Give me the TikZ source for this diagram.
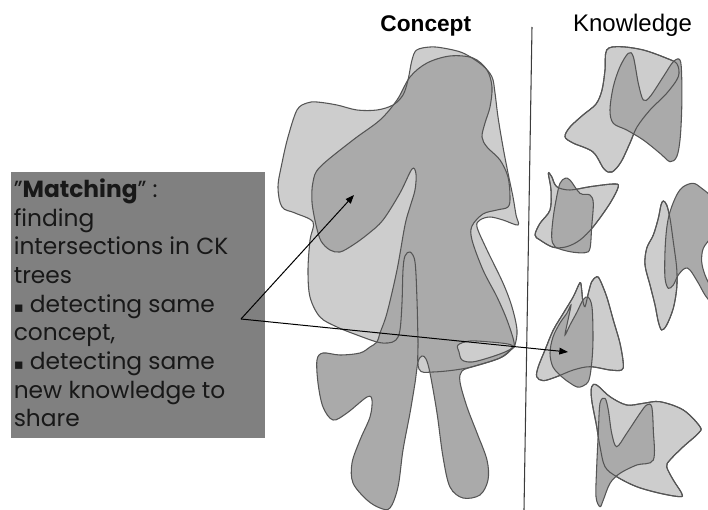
\documentclass[tikz,border=0pt]{standalone}
\usepackage{fontspec}
\setmainfont{Poppins}
\newfontfamily\arialf{Liberation Sans}
\newfontfamily\dejavuf{DejaVu Sans}
\usetikzlibrary{arrows.meta}
\definecolor{lgray}{HTML}{CDCDCD}
\definecolor{dgray}{HTML}{AAAAAA}
\definecolor{ogray}{HTML}{555555}
\definecolor{boxgray}{HTML}{808080}
\definecolor{txtcol}{HTML}{181818}
\tikzset{
  outl/.style={draw=ogray, line width=0.8pt},
  txt/.style={anchor=base west, inner sep=0pt, text=txtcol, font=\fontsize{17.5}{20}\selectfont},
  arr/.style={-{Triangle[length=6.5pt,width=5pt]}, line width=0.75pt, black},
}
\newcommand{\blt}{{\dejavuf\fontsize{11}{12}\selectfont ▪}}
\begin{document}
\begin{tikzpicture}[x=0.75pt,y=-0.75pt]
\useasboundingbox (0,0) rectangle (708,510);

% divider
\coordinate (vtop) at (532,27);
\coordinate (vbot) at (524,510);
\draw[line width=0.8pt, color=ogray!70!black] (vtop) -- (vbot);

% ---------- Concept shapes ----------
\path[save path=\pL] plot[smooth cycle, tension=0.55] coordinates {
(416.7,50) (430,47) (443,48) (463,53) (482,65) (492,77) (495,93) (498,117) (503,147) (508,173) (513,197) (516,215) (518,225) (503,220) (490,217) (480,220) (477,227) (487,250) (503,283) (512,307) (517,330) (515,345) (512,349) (500,358) (467,368) (433,372) (419,369) (418,340) (417,300) (415,262) (410,252) (405,256) (403,270) (402,303) (400,330) (396,340) (388,343) (377,342) (357,335) (337,327) (320,317) (310,297) (308,270) (310,240) (313,222) (295,213) (282,207) (278,187) (282,163) (288,137) (297,110) (307,103) (317,102) (337,105) (357,110) (377,110) (393,105) (403,95) (408,80) (412,60)};
\path[save path=\pD] plot[smooth cycle, tension=0.55] coordinates {
(370,347) (360,353) (340,355) (323,353) (317,360) (318,383) (323,407) (333,420) (347,413) (367,397) (372,400) (370,417) (360,440) (352,463) (353,483) (367,500) (380,508) (390,508) (398,487) (403,450) (410,413) (415,383) (418,362) (422,356) (426,359) (430,373) (437,413) (443,457) (450,487) (463,498) (480,495) (488,480) (487,460) (477,433) (467,407) (460,382) (462,371) (475,366) (500,358) (512,348) (514,342) (507,320) (497,297) (483,270) (472,240) (472,226) (483,214) (497,210) (508,207) (510,197) (508,177) (500,160) (487,147) (482,137) (485,123) (490,107) (492,87) (487,70) (473,58) (450,56) (427,63) (410,77) (397,100) (380,120) (353,140) (320,167) (313,182) (312,202) (316,225) (321,241) (330,250) (340,252) (353,245) (368,234) (383,220) (400,193) (412,169) (416,174) (415,190) (410,207) (405,225) (397,270) (387,313) (380,333) (377,342)};
\path[save path=\pS] plot[smooth cycle, tension=0.55] coordinates {
(458,345) (470,341) (490,342) (508,344) (513,347) (505,352) (488,358) (472,362) (462,360) (459,352)};
\path[use path=\pL, fill=lgray];
\path[use path=\pD, fill=dgray];
\path[use path=\pS, fill=lgray];
\path[use path=\pL, outl];
\path[use path=\pD, outl];
\path[use path=\pS, outl];

% ---------- Knowledge shapes ----------
% K1
\path[save path=\pKa] plot[smooth cycle, tension=0.55] coordinates {
(606.7,50) (620,46.7) (643.3,50) (666.7,58.3) (677,64) (678.3,76.7) (666.7,93.3) (650,110) (637,127) (630,143) (621,162) (612,172) (604,169) (593,152) (573,143) (565,136.7) (570,127) (583,115) (596,104) (602,90) (605,70)};
\path[save path=\pKb] plot[smooth cycle, tension=0.55] coordinates {
(610,110) (613.3,86.7) (620,66.7) (628.3,53.3) (633.3,56.7) (638.3,83.3) (643.3,100) (650,96.7) (663.3,76.7) (673.3,61.7) (680,60) (681.7,76.7) (681.7,110) (680,140) (676.7,156.7) (670,161.7) (660,153.3) (643.3,140) (626.7,130) (613.3,123.3)};
% K2
\path[save path=\pKc] plot[smooth cycle, tension=0.55] coordinates {
(548.3,173.3) (551.7,176.7) (556.7,186.7) (570,190) (590,186.7) (613.3,184) (618.3,186.7) (610,203.3) (593.3,226.7) (580,240) (566.7,246.7) (553.3,247.3) (540,240) (535,235) (540,223.3) (550,210) (551,190)};
\path[save path=\pKd] plot[smooth cycle, tension=0.55] coordinates {
(560,183.3) (565,178.3) (570,180) (580,193.3) (590,195) (593.3,203.3) (591.7,226.7) (590,248.3) (585,252.7) (570,251.7) (555,246.7) (551.7,236.7) (553.3,216.7) (556.7,196.7)};
% K3
\path[save path=\pKe] plot[smooth cycle, tension=0.55] coordinates {
(663.3,201) (666.7,205) (670,218.3) (673.3,241.7) (676.7,268.3) (676.7,288.3) (673.3,308.3) (666.7,325) (661.7,330) (658.3,321.7) (655,305) (650,285) (645,265) (646.7,248.3) (653.3,235) (658.3,218.3) (661,205)};
\path[save path=\pKf] plot[smooth cycle, tension=0.55] coordinates {
(670,211.7) (676.7,195) (683.3,186.7) (693.3,183.3) (701.7,188.3) (712,198) (716,215) (712,235) (703.3,248.3) (701.7,261.7) (705,275) (712,290) (716,300) (712,303) (705,295) (698.3,283) (690,270) (685,268.3) (678.3,275) (673.3,285) (668.3,288.3) (665,278) (665,251.7) (666.7,228.3)};
% K4
\path[save path=\pKg] plot[smooth cycle, tension=0.55] coordinates {
(580,282.7) (573.3,296.7) (563.3,313.3) (553.3,330) (545,350) (538.3,366.7) (536.7,376.7) (543.3,380.7) (556.7,376.7) (573.3,370) (590,366.7) (610,370) (621.7,370) (623.3,363.3) (620,343.3) (613.3,320) (606.7,296.7) (600,280) (596.7,276.7) (591.7,281.7) (588.3,293.3) (585,306.7) (582.7,300) (581.7,290)};
\path[save path=\pKh] plot[smooth cycle, tension=0.55] coordinates {
(588,297) (592,307) (593,337) (592,360) (589,380) (583,386) (577,387) (570,383) (562,377) (553,367) (550,353) (553,337) (560,323) (567,313) (571,305) (568,320) (565,335) (570,325) (577,312) (583,300)};
% K5
\path[save path=\pKi] plot[smooth cycle, tension=0.55] coordinates {
(591.7,386.7) (596.7,385) (610,396.7) (626.7,405) (643.3,403.3) (660,401.7) (683.3,410) (700,426.7) (698.3,433.3) (683.3,446.7) (670,460) (666.7,466.7) (673.3,480) (681.7,493.3) (680,496.7) (660,493.3) (636.7,486.7) (616.7,476.7) (605,466.7) (600,446.7) (596.7,426.7) (591.7,400)};
\path[save path=\pKj] plot[smooth cycle, tension=0.55] coordinates {
(600,403.3) (605,398.3) (608.3,410) (611.7,433.3) (616.7,446.7) (626.7,433.3) (640,413.3) (646.7,405) (651.7,406.7) (653.3,430) (653.3,460) (636.7,465) (620,473.3) (610,483.3) (603.3,500) (600,506.7) (596,496.7) (596.7,466.7) (598.3,433.3)};

\path[use path=\pKa, fill=lgray, outl];
\path[use path=\pKb, fill=dgray, outl];
\path[use path=\pKa, outl];
\path[use path=\pKc, fill=lgray, outl];
\path[use path=\pKd, fill=dgray, outl];
\path[use path=\pKc, outl];
\path[use path=\pKe, fill=lgray, outl];
\path[use path=\pKf, fill=dgray, outl];
\path[use path=\pKe, outl];
\path[use path=\pKg, fill=lgray, outl];
\path[use path=\pKh, fill=dgray, outl];
\path[use path=\pKg, outl];
\path[use path=\pKi, fill=lgray, outl];
\path[use path=\pKj, fill=dgray, outl];
\path[use path=\pKi, outl];

% titles
\node[anchor=base, inner sep=0pt, font=\arialf\bfseries\fontsize{17}{20}\selectfont] (concept) at (425.8,31.7) {Concept};
\node[anchor=base, inner sep=0pt, font=\arialf\fontsize{18}{20}\selectfont] (knowledge) at (632.5,31.3) {Knowledge};

% text box
\node[fill=boxgray, inner sep=0pt, anchor=north west, minimum width=190.5pt, minimum height=199.5pt] (box) at (11,172) {};
\node[txt] (t1) at (13.5,197.3) {"\textbf{Matching}" :};
\node[txt] (t2) at (13.5,226.0) {finding};
\node[txt] (t3) at (13.5,254.6) {intersections in CK};
\node[txt] (t4) at (13.5,283.3) {trees};
\node[txt] (t5) at (13.5,312.0) {\blt\ detecting same};
\node[txt] (t6) at (13.5,340.6) {concept,};
\node[txt] (t7) at (13.5,369.3) {\blt\ detecting same};
\node[txt] (t8) at (13.5,398.0) {new knowledge to};
\node[txt] (t9) at (13.5,426.7) {share};

% arrows
\coordinate (src) at (241,319);
\coordinate (tipC) at (354,195);
\coordinate (tipK) at (568,352);
\draw[arr] (src) -- (tipC);
\draw[arr] (src) -- (tipK);
\end{tikzpicture}
\end{document}
